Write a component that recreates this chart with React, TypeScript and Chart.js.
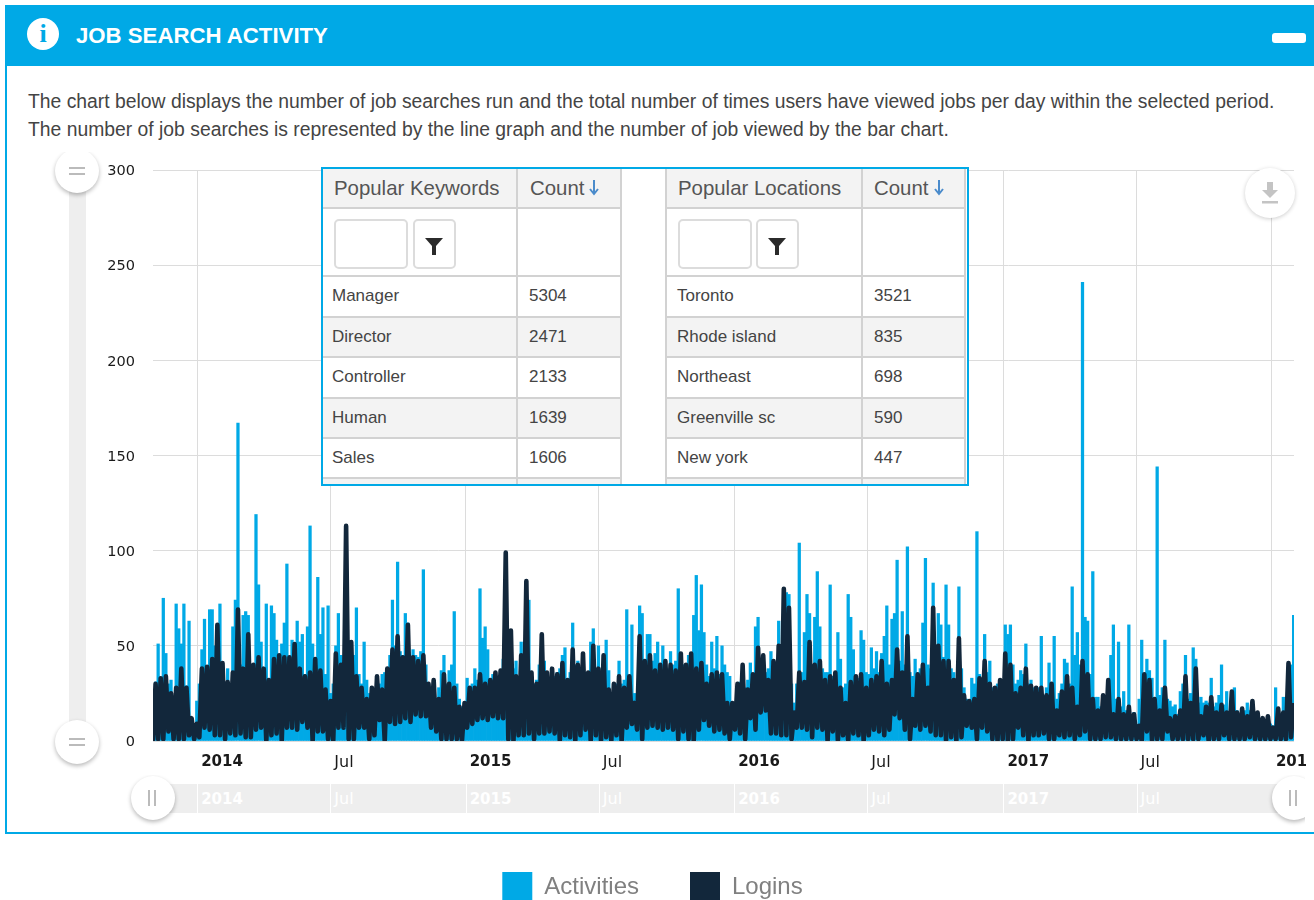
import React, { useEffect, useRef } from "react";
import { Chart, registerables } from "chart.js";

Chart.register(...registerables);

const periodDays = 3.5;
const firstDay = -60;
const lastDay = 1491;
const tickDays = [0, 181, 365, 546, 730, 911, 1096, 1277, 1461];
const tickLabels = ["2014", "Jul", "2015", "Jul", "2016", "Jul", "2017", "Jul", "2018"];
const yTicksMax = 300;

const activities = [
  20,31,51,30,75,46,30,32,15,72,
  59,51,72,29,63,10,9,21,30,48,
  64,39,69,69,50,37,72,40,30,38,
  25,60,74,167,40,66,68,66,40,37,
  119,82,52,38,72,30,71,67,53,45,
  51,62,93,42,53,30,63,52,56,35,
  60,113,51,40,86,56,70,35,71,25,
  30,50,67,45,35,77,35,30,45,70,
  35,30,52,32,25,28,22,26,30,35,
  36,38,45,74,50,94,47,45,67,62,
  38,48,45,44,47,90,40,30,28,25,
  20,28,37,45,30,37,40,68,30,22,
  18,20,33,28,30,38,32,80,54,60,
  48,30,35,30,32,36,43,34,50,45,
  38,42,32,52,35,60,74,34,30,32,
  40,54,42,28,30,32,34,36,38,45,
  49,30,36,62,40,42,30,46,30,35,
  52,59,35,50,34,40,53,37,25,28,
  30,42,30,32,69,32,61,25,22,71,
  67,40,56,56,42,46,52,36,50,40,
  38,47,40,42,80,38,40,30,45,33,
  66,87,58,82,57,40,34,52,38,55,
  35,50,40,36,34,19,16,18,31,26,
  28,32,41,35,60,65,35,36,36,38,
  47,32,32,63,40,80,78,77,30,20,
  30,104,36,57,77,67,40,65,89,60,
  38,36,36,82,34,30,57,43,28,30,
  77,65,48,32,33,58,53,36,35,49,
  38,47,36,46,55,71,40,64,67,95,
  42,68,40,102,36,34,43,32,38,62,
  96,40,38,83,40,67,61,44,82,61,
  38,36,30,81,38,28,22,20,33,30,
  110,35,30,56,36,42,28,25,30,28,
  32,61,56,61,40,30,32,37,35,51,
  30,32,28,25,28,55,24,28,41,30,
  55,22,25,30,43,41,30,81,45,57,
  40,241,65,63,35,89,23,23,18,14,
  22,30,45,61,22,52,18,26,16,61,
  14,15,6,22,53,34,43,37,33,22,
  144,24,28,53,22,21,18,19,14,26,
  30,45,22,25,49,43,20,23,20,21,
  20,33,18,20,24,40,19,26,14,20,
  28,16,14,14,16,20,16,21,14,12,
  10,10,9,11,9,8,28,12,14,23,
  14,20,40,66,
];

const loginPeaks = [
  30,33,34,25,28,38,28,12,9,38,
  39,43,61,41,31,36,69,38,56,40,
  44,38,32,43,45,44,44,51,38,34,
  36,43,37,27,21,46,40,113,52,34,
  28,22,28,34,27,38,48,55,44,61,
  44,42,45,30,32,22,35,30,28,18,
  20,28,28,35,30,32,36,37,99,58,
  34,45,84,36,30,56,36,38,35,41,
  32,48,40,46,36,50,38,45,27,30,
  34,28,34,20,55,42,45,37,40,42,
  40,37,46,40,46,38,41,30,35,36,
  35,20,20,30,40,27,35,49,45,32,
  42,50,80,70,15,36,31,52,40,42,
  32,34,36,28,20,31,34,35,28,32,
  34,42,30,32,48,36,55,22,35,40,
  28,70,50,42,42,32,54,24,21,22,
  33,42,30,28,32,46,40,25,28,38,
  29,28,28,24,30,16,26,34,28,18,
  42,35,22,16,24,32,14,22,14,18,
  14,8,35,32,22,16,28,12,13,16,
  34,20,38,13,18,23,15,19,15,26,
  15,17,13,21,15,12,13,7,17,15,
  41,20,
];

const loginLows = [
  0,1,1,5,1,1,1,3,1,2,
  7,6,3,3,1,4,3,4,2,2,
  6,7,0,3,4,0,7,7,6,10,
  7,0,5,5,1,0,7,7,1,1,
  7,7,1,3,11,0,10,9,10,12,
  10,14,13,13,7,5,1,1,1,1,
  0,7,9,11,12,11,13,12,12,1,
  0,3,3,4,1,4,4,5,4,0,
  3,2,0,3,6,0,3,0,2,0,
  3,0,7,9,6,1,7,8,7,6,
  7,6,1,5,1,0,6,11,8,5,
  6,4,1,6,4,1,12,6,15,16,
  4,4,3,3,1,7,7,6,2,7,
  6,0,5,0,3,0,4,3,0,3,
  6,5,3,6,14,12,6,1,8,6,
  8,5,3,3,0,2,0,2,8,7,
  1,7,5,1,0,1,0,1,7,3,
  0,3,3,4,1,1,3,2,3,1,
  3,5,1,1,1,2,2,1,1,1,
  1,1,0,5,0,1,1,5,1,1,
  1,1,1,1,3,0,1,1,3,1,
  1,1,1,2,1,1,1,1,1,1,
  1,2,
];

const keywordNames = ["Manager", "Director", "Controller", "Human", "Sales"];
const keywordCounts = [5304, 2471, 2133, 1639, 1606];
const locationNames = ["Toronto", "Rhode island", "Northeast", "Greenville sc", "New york"];
const locationCounts = [3521, 835, 698, 590, 447];

const BLUE = "#00a9e6";
const NAVY = "#12273b";
const ARIAL = '"Liberation Sans", Arial, sans-serif';

const abs = (left: number, top: number, width: number, height: number, extra: any = {}): any => ({
  position: "absolute", left, top, width, height, boxSizing: "border-box", ...extra,
});

const knob = (cx: number, cy: number, glyph: "h" | "v") => {
  const r = 22;
  return (
    <div style={abs(cx - r, cy - r, r * 2, r * 2, { borderRadius: "50%", background: "#fff", boxShadow: "0 2px 4px rgba(0,0,0,0.28)" })}>
      {glyph === "h" ? (
        <>
          <div style={abs(14, 18, 16, 2, { background: "#bbb" })} />
          <div style={abs(14, 24, 16, 2, { background: "#bbb" })} />
        </>
      ) : (
        <>
          <div style={abs(17, 14, 2, 16, { background: "#bbb" })} />
          <div style={abs(23, 14, 2, 16, { background: "#bbb" })} />
        </>
      )}
    </div>
  );
};

const Funnel = ({ left, top }: { left: number; top: number }) => (
  <svg style={{ position: "absolute", left, top }} width="20" height="20" viewBox="0 0 20 20">
    <path d="M1 2 H19 L12 10 V19 H8 V10 Z" fill="#2b2b2b" />
  </svg>
);

const rowTops = [276, 317, 357, 398, 438];
const rowHeights = [41, 40, 41, 40, 40];

const MiniTable = ({ left, c1, w, edge, head, names, counts }: { left: number; c1: number; w: number; edge: boolean; head: string; names: string[]; counts: number[] }) => {
  const line = "#d2d2d2";
  const headPad = edge ? 12 : 11;
  const rowPad = edge ? 11 : 9;
  const countHeadPad = edge ? 12 : 13;
  const countPad = edge ? 12 : 12;
  return (
    <>
      <div style={abs(left, 169, w, 39, { background: "#f3f3f3" })} />
      {[1, 3].map((i) => (
        <div key={i} style={abs(left, rowTops[i], w, rowHeights[i], { background: "#f3f3f3" })} />
      ))}
      <div style={abs(left, 478, w, 6, { background: "#f3f3f3" })} />
      {[208, 276, 317, 357, 398, 438, 478].map((y) => (
        <div key={y} style={abs(left, y - 1, w, 2, { background: line })} />
      ))}
      {edge && <div style={abs(left - 1, 169, 2, 315, { background: line })} />}
      <div style={abs(left + c1 - 1, 169, 2, 315, { background: line })} />
      <div style={abs(left + w - 1, 169, 2, 315, { background: line })} />
      <div style={{ ...abs(left + headPad, 175, 180, 26), font: `20.4px ${ARIAL}`, color: "#555", lineHeight: "26px", whiteSpace: "nowrap" }}>{head}</div>
      <div style={{ ...abs(left + c1 + countHeadPad, 175, 56, 26), font: `20.4px ${ARIAL}`, color: "#555", lineHeight: "26px", whiteSpace: "nowrap" }}>Count</div>
      <svg style={{ position: "absolute", left: left + c1 + 71, top: 178 }} width="12" height="18" viewBox="0 0 12 18">
        <path d="M6 2 V15 M2 11 L6 16 L10 11" fill="none" stroke="#4a8bcb" strokeWidth="2" />
      </svg>
      <div style={abs(left + headPad, 219, 74, 50, { border: "2px solid #dcdcdc", borderRadius: 5, background: "#fff" })} />
      <div style={abs(left + 90, 219, 43, 50, { border: "2px solid #dcdcdc", borderRadius: 5, background: "#fff" })} />
      <Funnel left={left + 101} top={236} />
      {names.map((n, i) => (
        <React.Fragment key={n}>
          <div style={{ ...abs(left + rowPad, rowTops[i], 180, rowHeights[i]), font: `17px ${ARIAL}`, color: "#444", lineHeight: `${i === 0 ? 39 : 40}px`, whiteSpace: "nowrap" }}>{n}</div>
          <div style={{ ...abs(left + c1 + countPad, rowTops[i], 80, rowHeights[i]), font: `17px ${ARIAL}`, color: "#444", lineHeight: `${i === 0 ? 39 : 40}px` }}>{counts[i]}</div>
        </React.Fragment>
      ))}
    </>
  );
};

const navPixel = (d: number) => 153 + ((d - firstDay) / (lastDay - firstDay)) * 1141;

export default function App() {
  const ref = useRef<HTMLCanvasElement | null>(null);

  useEffect(() => {
    if (!ref.current) return;
    const logins = loginPeaks.flatMap((p, i) => [loginLows[i], p]);
    const toPoints = (vals: number[]) => vals.map((y, i) => ({ x: firstDay + i * periodDays, y }));
    const chart = new Chart(ref.current, {
      type: "bar",
      data: {
        datasets: [
          {
            type: "bar",
            label: "Activities",
            data: toPoints(activities),
            backgroundColor: BLUE,
            borderColor: BLUE,
            barThickness: 2.6,
            order: 2,
          },
          {
            type: "line",
            label: "Logins",
            data: toPoints(logins),
            borderColor: NAVY,
            backgroundColor: NAVY,
            borderWidth: 4.6,
            pointRadius: 0,
            tension: 0,
            borderJoinStyle: "round",
            order: 1,
          },
        ],
      } as any,
      options: {
        responsive: false,
        animation: false,
        layout: { padding: { left: 11, right: 12, top: 170, bottom: 0 } },
        plugins: {
          tooltip: { enabled: false },
          legend: {
            display: true,
            position: "bottom",
            labels: {
              boxWidth: 30,
              boxHeight: 30,
              padding: 51,
              color: "#808080",
              font: { family: "Liberation Sans", size: 24 },
              sort: (a: any, b: any) => a.datasetIndex - b.datasetIndex,
              generateLabels: (c: any) =>
                (Chart.defaults.plugins.legend.labels as any).generateLabels(c).map((item: any) => ({ ...item, lineWidth: 0, strokeStyle: "transparent" })),
            },
          },
        },
        scales: {
          x: {
            type: "linear",
            min: firstDay,
            max: lastDay,
            offset: false,
            border: { display: false },
            grid: { color: "#dcdcdc", drawTicks: false, lineWidth: 1, offset: false },
            afterBuildTicks: (s: any) => {
              s.ticks = tickDays.map((value) => ({ value }));
            },
            afterFit: (s: any) => {
              s.height = 80;
              s.paddingLeft = 0;
              s.paddingRight = 0;
            },
            ticks: {
              autoSkip: false,
              maxRotation: 0,
              minRotation: 0,
              align: "start",
              labelOffset: 4,
              padding: 12,
              color: "#1a1a1a",
              callback: (_v: any, i: number) => tickLabels[i],
              font: (ctx: any) => ({
                family: "DejaVu Sans",
                size: ctx.index % 2 === 0 ? 15 : 16,
                weight: ctx.index % 2 === 0 ? "bold" : "normal",
              }),
            },
          },
          y: {
            min: 0,
            max: yTicksMax,
            border: { display: false },
            grid: { color: "#dcdcdc", drawTicks: false, lineWidth: 1 },
            afterFit: (s: any) => {
              s.width = 142;
              s.paddingTop = 0;
              s.paddingBottom = 0;
            },
            ticks: {
              stepSize: 50,
              padding: 18,
              labelOffset: 1.5,
              color: "#1a1a1a",
              font: { family: "DejaVu Sans", size: 14.5 },
            },
          },
        },
      } as any,
    });
    return () => chart.destroy();
  }, []);

  const p1 = "The chart below displays the number of job searches run and the total number of times users have viewed jobs per day within the selected period.";
  const p2 = "The number of job searches is represented by the line graph and the number of job viewed by the bar chart.";

  return (
    <div style={{ position: "absolute", left: 0, top: 0, width: 1314, height: 900, overflow: "hidden", background: "#fff" }}>
      {/* panel */}
      <div style={abs(5, 5, 1320, 829, { border: `2px solid ${BLUE}` })} />
      <div style={abs(5, 5, 1320, 61, { background: BLUE })} />
      <div style={abs(27, 18, 32, 32, { borderRadius: "50%", background: "#fff", color: BLUE, font: `bold 26px "Liberation Serif", serif`, lineHeight: "32px", textAlign: "center" })}>i</div>
      <div style={{ ...abs(76, 21, 400, 30), font: `bold 22.2px ${ARIAL}`, color: "#fff", lineHeight: "30px", whiteSpace: "nowrap" }}>JOB SEARCH ACTIVITY</div>
      <div style={abs(1272, 33, 34, 10, { background: "#fff", borderRadius: 3 })} />
      <div style={{ ...abs(28, 88, 1280, 28), font: `19.33px ${ARIAL}`, color: "#444", lineHeight: "28px", whiteSpace: "nowrap" }}>{p1}</div>
      <div style={{ ...abs(28, 116, 1280, 28), font: `19.33px ${ARIAL}`, color: "#444", lineHeight: "28px", whiteSpace: "nowrap" }}>{p2}</div>

      {/* vertical range slider */}
      <div style={abs(69, 171, 17, 570, { background: "#eeeeee" })} />
      <div style={abs(40, 152, 80, 50, { overflow: "hidden" })}>
        <div style={{ position: "absolute", left: -40, top: -152 }}>{knob(77, 171, "h")}</div>
      </div>
      {knob(77, 742, "h")}

      {/* navigator */}
      <div style={abs(120, 775, 1185, 55, { overflow: "hidden" })}>
        <div style={abs(34, 9, 1140, 29, { background: "#eeeeee" })} />
        {tickDays.slice(0, 8).map((d, i) => (
          <React.Fragment key={d}>
            <div style={abs(navPixel(d) - 120, 9, 1, 29, { background: "#fff" })} />
            <div style={{ ...abs(navPixel(d) - 120 + 4, 14, 60, 20), font: `${i % 2 === 0 ? "bold 15px" : "16px"} "DejaVu Sans", sans-serif`, color: "#fff", lineHeight: "20px", whiteSpace: "nowrap" }}>{tickLabels[i]}</div>
          </React.Fragment>
        ))}
        <div style={{ position: "absolute", left: -120, top: -775 }}>
          {knob(153, 798, "v")}
          {knob(1294, 798, "v")}
        </div>
      </div>

      <canvas ref={ref} width={1306} height={912} style={{ position: "absolute", left: 0, top: 0, display: "block" }} />

      {/* download button */}
      <div style={abs(1245, 168, 50, 50, { borderRadius: "50%", background: "#fff", boxShadow: "0 1px 4px rgba(0,0,0,0.2)" })}>
        <svg style={{ position: "absolute", left: 15, top: 13 }} width="20" height="24" viewBox="0 0 20 24">
          <path d="M7 1 H13 V9 H18 L10 17 L2 9 H7 Z" fill="#c4c4c4" />
          <rect x="2" y="20" width="16" height="2.5" fill="#c4c4c4" />
        </svg>
      </div>

      {/* popular tables */}
      <div style={abs(321, 167, 648, 319, { background: "#fff", border: `2px solid ${BLUE}`, overflow: "hidden" })} />
      <MiniTable left={323} c1={194} w={298} edge={false} head="Popular Keywords" names={keywordNames} counts={keywordCounts} />
      <MiniTable left={666} c1={196} w={299} edge={true} head="Popular Locations" names={locationNames} counts={locationCounts} />
    </div>
  );
}
